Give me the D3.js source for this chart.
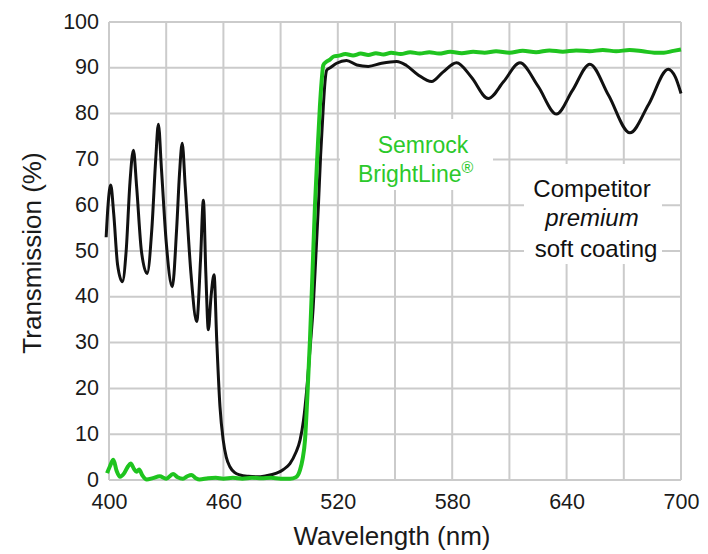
<!DOCTYPE html>
<html>
<head>
<meta charset="utf-8">
<script src="https://cdn.jsdelivr.net/npm/d3@7"></script>
<style>
  html, body { margin: 0; padding: 0; background: #fff; }
  svg { display: block; }
  text { font-family: "Liberation Sans", Arial, Helvetica, sans-serif; }
</style>
</head>
<body>
<svg id="chart" width="708" height="554"></svg>
<script>
// ---- data ----
const xTickLabels = [400, 460, 520, 580, 640, 700];
const xGridValues = [400, 430, 460, 490, 520, 550, 580, 610, 640, 670, 700];
const yTickLabels = [0, 10, 20, 30, 40, 50, 60, 70, 80, 90, 100];

const competitorWavelength = [398.5, 399.5, 400.9, 402.5, 404.5, 407, 409, 411, 412.8, 414.5, 417, 420, 422.5, 424.5, 425.9, 427.5, 430, 433.2, 435.5, 437, 438.4, 440, 443, 446, 448, 449.5, 450.8, 452.1, 453.5, 455.1, 456.5, 458.2, 459.9, 461.5, 463.4, 466, 468.7, 473, 477.5, 482, 487.9, 491.5, 494.9, 498, 500.2, 502, 503.7, 505.5, 507.1, 508.5, 509.8, 511, 512.4, 513.3, 514.2, 516, 519.4, 524.6, 530, 536, 543, 550.9, 556, 562, 569.2, 575, 582.3, 590, 598.9, 607, 615.5, 625, 634.7, 643, 652.2, 662, 673.2, 683, 693.3, 697, 700];
const competitorTransmission = [53, 60, 64.4, 58, 47, 43.3, 50, 65, 72, 64, 50, 45.1, 55, 70, 77.7, 68, 52, 42.2, 55, 67, 73.5, 64, 45, 34.6, 48, 61.1, 45, 32.8, 40, 44.8, 30.6, 16, 8.7, 5, 2.9, 1.6, 1.1, 0.8, 0.7, 0.9, 1.5, 2.3, 3.6, 6, 8.7, 13, 19.7, 29, 37.8, 49, 59.7, 71, 81.5, 87, 89.5, 90, 91, 91.6, 90.6, 90.3, 91, 91.4, 90.5, 88.5, 87, 89, 91.1, 88, 83.3, 87, 91.1, 86, 79.9, 85, 90.8, 84, 75.8, 82, 89.7, 88, 84.4];

const semrockWavelength = [399, 400.5, 402.3, 404, 405.8, 408, 410, 411.4, 413, 414.5, 415.8, 417.5, 419.8, 423, 426.6, 430, 433.6, 436, 438.8, 441, 443.2, 445.5, 447.5, 452, 456, 460, 465, 470, 475, 480, 485, 490, 495, 498, 500.2, 501.5, 502.8, 504, 505.4, 506.7, 508, 509.3, 510.6, 511.5, 512.4, 514, 515.9, 518, 520, 524, 528, 532, 536, 540, 544, 548, 553, 558, 563, 568, 573, 579, 585, 591, 597, 603, 610, 617, 624, 631, 638, 645, 652, 659, 666, 673, 680, 686, 691, 696, 700];
const semrockTransmission = [1.5, 3, 4.4, 2, 0.7, 1.5, 3, 3.6, 2.5, 1.8, 2.3, 1, 0.1, 0.4, 0.8, 0.3, 1.3, 0.6, 0.3, 0.8, 1.1, 0.4, 0.1, 0.4, 0.5, 0.3, 0.5, 0.3, 0.5, 0.4, 0.5, 0.3, 0.3, 0.6, 2.2, 4.5, 8.7, 18, 30.6, 45, 59.7, 71, 81.5, 87, 90.6, 91.3, 91.8, 92.5, 92.6, 93.0, 92.7, 93.1, 92.8, 93.2, 92.9, 93.3, 93.0, 93.4, 93.1, 93.4, 93.1, 93.5, 93.2, 93.5, 93.3, 93.6, 93.3, 93.7, 93.4, 93.8, 93.5, 93.8, 93.6, 93.9, 93.6, 93.9, 93.6, 93.3, 93.3, 93.7, 94.0];

// ---- chart ----
const svg = d3.select("#chart");
const x = d3.scaleLinear().domain([400, 700]).range([109, 681]);
const y = d3.scaleLinear().domain([0, 100]).range([480, 22]);

const gridColor = "#cbcbcb";
const grid = svg.append("g");
grid.selectAll("line.v").data(xGridValues).join("line")
  .attr("x1", d => x(d)).attr("x2", d => x(d))
  .attr("y1", y(0)).attr("y2", y(100))
  .attr("stroke", gridColor).attr("stroke-width", 2);
grid.selectAll("line.h").data(yTickLabels).join("line")
  .attr("x1", x(400)).attr("x2", x(700))
  .attr("y1", d => y(d)).attr("y2", d => y(d))
  .attr("stroke", gridColor).attr("stroke-width", 2);

// white boxes behind annotations
svg.append("rect").attr("x", 340).attr("y", 119).attr("width", 153).attr("height", 71).attr("fill", "#fff");
svg.append("rect").attr("x", 524).attr("y", 164).attr("width", 138).attr("height", 100).attr("fill", "#fff");

// axes (labels only)
const yAxis = d3.axisLeft(y).tickValues(yTickLabels).tickSize(0).tickPadding(10);
const gy = svg.append("g").attr("transform", `translate(${x(400)},0)`).call(yAxis);
gy.select(".domain").remove();
gy.selectAll("text").attr("font-size", 21.5).attr("fill", "#1a1a1a").attr("dy", "0.28em")
  .attr("font-family", "'Liberation Sans', Arial, sans-serif");

const xAxis = d3.axisBottom(x).tickValues(xTickLabels).tickSize(0).tickPadding(14);
const gx = svg.append("g").attr("transform", `translate(0,${y(0)})`).call(xAxis);
gx.select(".domain").remove();
gx.selectAll("text").attr("font-size", 21.5).attr("fill", "#1a1a1a")
  .attr("font-family", "'Liberation Sans', Arial, sans-serif");

// axis titles
svg.append("text").attr("x", 392).attr("y", 545).attr("text-anchor", "middle")
  .attr("font-size", 26).attr("fill", "#1a1a1a").text("Wavelength (nm)");
svg.append("text").attr("transform", "translate(41,253) rotate(-90)").attr("text-anchor", "middle")
  .attr("font-size", 26).attr("fill", "#1a1a1a").text("Transmission (%)");

// curves
const line = d3.line().x(d => x(d[0])).y(d => y(d[1])).curve(d3.curveMonotoneX);
const competitor = competitorWavelength.map((w, i) => [w, competitorTransmission[i]]);
const semrock = semrockWavelength.map((w, i) => [w, semrockTransmission[i]]);

svg.append("path").datum(competitor).attr("d", line)
  .attr("fill", "none").attr("stroke", "#111").attr("stroke-width", 3)
  .attr("stroke-linejoin", "round");
svg.append("path").datum(semrock).attr("d", line)
  .attr("fill", "none").attr("stroke", "#1fc41f").attr("stroke-width", 4)
  .attr("stroke-linejoin", "round");

// annotations
const green = "#2bc92b";
svg.append("text").attr("x", 423).attr("y", 153).attr("text-anchor", "middle")
  .attr("font-size", 23).attr("fill", green).text("Semrock");
const bl = svg.append("text").attr("x", 358).attr("y", 182)
  .attr("font-size", 23).attr("fill", green);
bl.append("tspan").text("BrightLine");
bl.append("tspan").attr("font-size", 16).attr("dy", -9).text("®");

svg.append("text").attr("x", 592).attr("y", 197).attr("text-anchor", "middle")
  .attr("font-size", 24).attr("fill", "#111").text("Competitor");
svg.append("text").attr("x", 592).attr("y", 226).attr("text-anchor", "middle")
  .attr("font-size", 24).attr("font-style", "italic").attr("fill", "#111").text("premium");
svg.append("text").attr("x", 596).attr("y", 257).attr("text-anchor", "middle")
  .attr("font-size", 24).attr("fill", "#111").text("soft coating");
</script>
</body>
</html>
